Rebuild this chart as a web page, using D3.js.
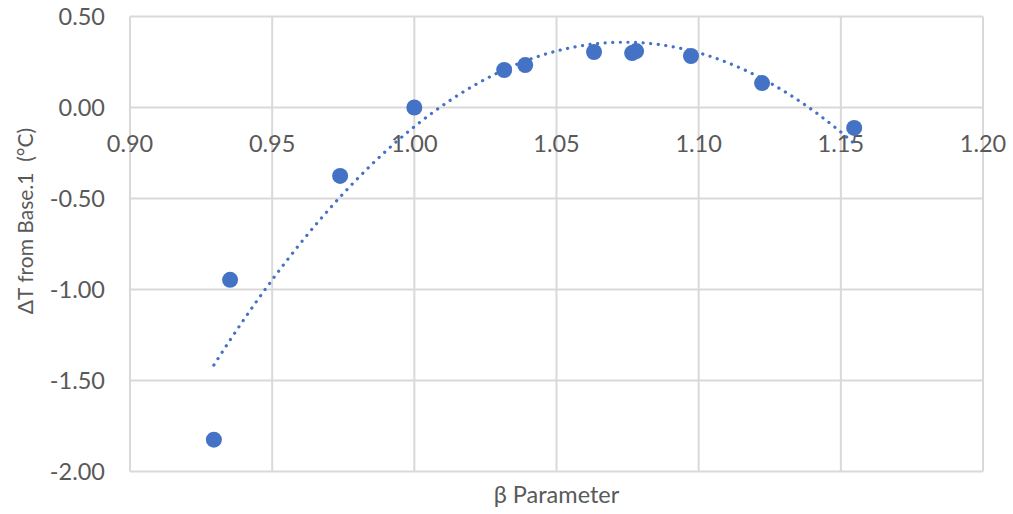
<!DOCTYPE html>
<html>
<head>
<meta charset="utf-8">
<script src="https://cdn.jsdelivr.net/npm/d3@7"></script>
<style>
  body { margin: 0; background: #fff; }
  text { font-family: Lato, "Open Sans", sans-serif; fill: #595959; white-space: pre; }
</style>
</head>
<body>
<svg id="chart" width="1013" height="514"></svg>
<script>
// beta parameter vs temperature change
const betaValues = [0.9295, 0.9352, 0.9739, 1.000, 1.0316, 1.039, 1.0632, 1.0766, 1.078, 1.0973, 1.1223, 1.1547];
const deltaT = [-1.825, -0.947, -0.376, 0.0, 0.206, 0.233, 0.305, 0.299, 0.31, 0.283, 0.134, -0.112];
const xTicks = [0.90, 0.95, 1.00, 1.05, 1.10, 1.15, 1.20];
const yTicks = [0.50, 0.00, -0.50, -1.00, -1.50, -2.00];

const svg = d3.select("#chart");
const x = d3.scaleLinear().domain([0.90, 1.20]).range([130, 983]);
const y = d3.scaleLinear().domain([-2.0, 0.5]).range([471.5, 16.5]);

const points = betaValues.map((b, i) => ({ x: b, y: deltaT[i] }));

// grid
svg.append("g").selectAll("line").data(xTicks).join("line")
  .attr("x1", d => x(d)).attr("x2", d => x(d))
  .attr("y1", y(0.5)).attr("y2", y(-2))
  .attr("stroke", "#d9d9d9").attr("stroke-width", 2);
svg.append("g").selectAll("line").data(yTicks).join("line")
  .attr("x1", x(0.9)).attr("x2", x(1.2))
  .attr("y1", d => y(d)).attr("y2", d => y(d))
  .attr("stroke", "#d9d9d9").attr("stroke-width", 2);

// tick labels
svg.append("g").selectAll("text").data(yTicks).join("text")
  .attr("x", 105).attr("y", d => y(d)).attr("dy", "0.35em")
  .attr("text-anchor", "end").attr("font-size", 23.5)
  .text(d => d3.format(".2f")(d).replace("−", "-"));
svg.append("g").selectAll("text").data(xTicks).join("text")
  .attr("x", d => x(d)).attr("y", 152)
  .attr("text-anchor", "middle").attr("font-size", 23.5)
  .text(d => d3.format(".2f")(d));

// quadratic least squares trendline
function quadFit(pts) {
  let s = [0, 0, 0, 0, 0], t = [0, 0, 0];
  pts.forEach(p => {
    for (let k = 0; k < 5; k++) s[k] += Math.pow(p.x, k);
    for (let k = 0; k < 3; k++) t[k] += p.y * Math.pow(p.x, k);
  });
  const A = [[s[0], s[1], s[2], t[0]], [s[1], s[2], s[3], t[1]], [s[2], s[3], s[4], t[2]]];
  for (let i = 0; i < 3; i++) {
    for (let j = i + 1; j < 3; j++) {
      const f = A[j][i] / A[i][i];
      for (let k = i; k < 4; k++) A[j][k] -= f * A[i][k];
    }
  }
  const c = [0, 0, 0];
  for (let i = 2; i >= 0; i--) {
    let v = A[i][3];
    for (let k = i + 1; k < 3; k++) v -= A[i][k] * c[k];
    c[i] = v / A[i][i];
  }
  return c;
}
const coef = quadFit(points);
const xs = d3.extent(betaValues);
const trend = d3.range(0, 101).map(i => {
  const xv = xs[0] + (xs[1] - xs[0]) * i / 100;
  return { x: xv, y: coef[0] + coef[1] * xv + coef[2] * xv * xv };
});
svg.append("path")
  .datum(trend)
  .attr("d", d3.line().x(d => x(d.x)).y(d => y(d.y)))
  .attr("fill", "none").attr("stroke", "#4472c4")
  .attr("stroke-width", 3.2).attr("stroke-linecap", "round")
  .attr("stroke-dasharray", "0.1 7.5");

// markers
svg.append("g").selectAll("circle").data(points).join("circle")
  .attr("cx", d => x(d.x)).attr("cy", d => y(d.y))
  .attr("r", 8).attr("fill", "#4472c4");

// axis titles
svg.append("text")
  .attr("x", x(1.05)).attr("y", 503)
  .attr("text-anchor", "middle").attr("font-size", 23.5)
  .text("β Parameter");
svg.append("text")
  .attr("transform", "translate(33,221) rotate(-90)")
  .attr("text-anchor", "middle").attr("font-size", 21)
  .text("ΔT from Base.1  (°C)");
</script>
</body>
</html>
